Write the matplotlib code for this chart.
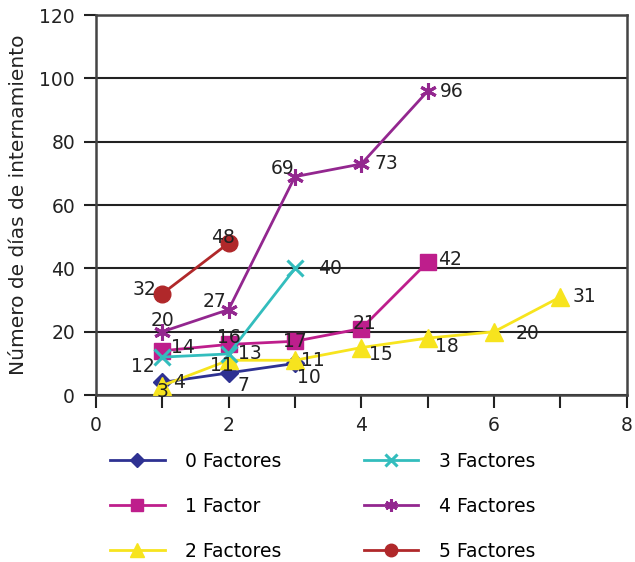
import matplotlib.pyplot as plt
from matplotlib.ticker import MultipleLocator

plt.rcParams['font.family'] = ['DejaVu Sans']

# datos por número de factores
x0 = [1, 2, 3]
y0 = [4, 7, 10]
x1 = [1, 2, 3, 4, 5]
y1 = [14, 16, 17, 21, 42]
x2 = [1, 2, 3, 4, 5, 6, 7]
y2 = [3, 11, 11, 15, 18, 20, 31]
x3 = [1, 2, 3]
y3 = [12, 13, 40]
x4 = [1, 2, 3, 4, 5]
y4 = [20, 27, 69, 73, 96]
x5 = [1, 2]
y5 = [32, 48]

nombres = ["0 Factores", "1 Factor", "2 Factores", "3 Factores", "4 Factores", "5 Factores"]
colores = ["#2E3192", "#BE1E8C", "#F7E41E", "#33BDBD", "#93278F", "#B0282A"]
marcas = ["D", "s", "^", "x", (6, 2, 0), "o"]
tamanos = [9, 12, 13, 11, 12, 12]

series = [(x0, y0), (x1, y1), (x2, y2), (x3, y3), (x4, y4), (x5, y5)]

# desplazamiento de etiquetas (puntos) por serie
offsets = [
    [(12, 0), (11, -9), (10, -10)],
    [(15, 2), (0, 5), (0, 0), (2, 4), (16, 2)],
    [(0, -4), (-5, -4), (13, 0), (14, -5), (14, -6), (24, -1), (17, 0)],
    [(-14, -7), (15, 0), (25, 0)],
    [(0, 8), (-10, 6), (-9, 6), (18, 0), (17, 0)],
    [(-13, 3), (-4, 4)],
]

fig = plt.figure(figsize=(6.35, 5.62), dpi=100)
ax = fig.add_axes([0.151, 0.297, 0.836, 0.676])

for (xs, ys), n, c, m, s, offs in zip(series, nombres, colores, marcas, tamanos, offsets):
    ax.plot(xs, ys, color=c, marker=m, markersize=s, linewidth=2, label=n,
            markeredgewidth=2.2 if m in ("x",) or isinstance(m, tuple) else 1,
            markeredgecolor=c, zorder=3)
    for xi, yi, (dx, dy) in zip(xs, ys, offs):
        ax.annotate(str(yi), (xi, yi), xytext=(dx, dy), textcoords="offset points",
                    ha="center", va="center", fontsize=13.5, color="#222222", zorder=4)

ax.set_xlim(0, 8)
ax.set_ylim(0, 120)
ax.set_xticks([0, 2, 4, 6, 8])
ax.xaxis.set_minor_locator(MultipleLocator(1))
ax.set_yticks(range(0, 121, 20))
ax.yaxis.grid(True, color="#222222", linewidth=1.5)
ax.set_axisbelow(True)
ax.tick_params(axis="both", which="both", labelsize=13.5, direction="out", length=9,
               width=1.5, colors="#222222", pad=6)
for sp in ax.spines.values():
    sp.set_color("#444444")
    sp.set_linewidth(1.8)
ax.set_ylabel("Número de días de internamiento", fontsize=14.5, color="#222222", labelpad=8)

fig.legend(loc="upper left", bbox_to_anchor=(0.147, 0.226), ncol=2, frameon=False,
           fontsize=13.5, handlelength=2.9, labelspacing=1.38, columnspacing=4.4,
           handletextpad=1.1, markerscale=0.75)

fig.savefig("out.png", dpi=100)
